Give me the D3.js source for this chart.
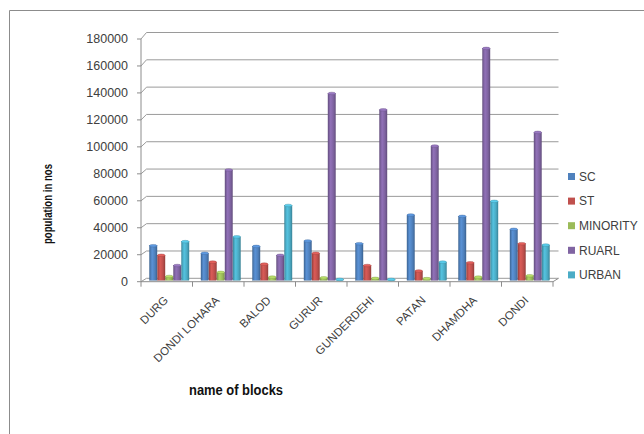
<!DOCTYPE html>
<html>
<head>
<meta charset="utf-8">
<script src="https://cdn.jsdelivr.net/npm/d3@7/dist/d3.min.js"></script>
<style>
  html, body { margin: 0; padding: 0; background: #ffffff; }
  svg { display: block; font-family: "Liberation Sans", Arial, sans-serif; }
</style>
</head>
<body>
<svg id="chart" width="644" height="434"></svg>
<script>
// ---- data ----
const categories = ["DURG", "DONDI LOHARA", "BALOD", "GURUR", "GUNDERDEHI", "PATAN", "DHAMDHA", "DONDI"];
const seriesNames = ["SC", "ST", "MINORITY", "RUARL", "URBAN"];
const sc       = [24800, 19300, 24300, 28300, 26300, 47300, 46300, 36800];
const st       = [17800, 12800, 11300, 19300, 10300, 6300, 12300, 26300];
const minority = [2300, 5300, 1800, 1300, 900, 700, 1800, 2800];
const ruarl    = [10300, 80300, 17800, 136300, 124300, 97800, 169300, 107800];
const urban    = [27800, 31300, 54300, 100, 100, 12800, 57300, 25300];
const yTicks   = [0, 20000, 40000, 60000, 80000, 100000, 120000, 140000, 160000, 180000];
const yTitle = "population in nos";
const xTitle = "name of blocks";

const seriesValues = [sc, st, minority, ruarl, urban];
const colors = ["#4F81BD", "#C0504D", "#9BBB59", "#8064A2", "#4BACC6"];

const svg = d3.select("#chart");

// frame
svg.append("path")
  .attr("d", "M9.5,434 L9.5,10.5 L644,10.5")
  .attr("fill", "none").attr("stroke", "#8c8c8c").attr("stroke-width", 1);

// scales
const x0 = d3.scaleBand().domain(categories).range([141, 553]);
const x1 = d3.scaleBand().domain(seriesNames).range([8.5, 48.5]);
const yBack = d3.scaleLinear().domain([0, 180000]).range([278.3, 32.5]);
const yFront = d3.scaleLinear().domain([0, 180000]).range([281.7, 39]);
const depthX = 5.5;
const xLeft = 141, xRight = x0.range()[1];

// gradients for cylinder look
const defs = svg.append("defs");
colors.forEach((c, i) => {
  const g = defs.append("linearGradient").attr("id", "g" + i)
    .attr("x1", "0%").attr("x2", "100%").attr("y1", "0%").attr("y2", "0%");
  const base = d3.color(c);
  g.append("stop").attr("offset", "0%").attr("stop-color", base.darker(0.5));
  g.append("stop").attr("offset", "35%").attr("stop-color", base.brighter(0.35));
  g.append("stop").attr("offset", "70%").attr("stop-color", base);
  g.append("stop").attr("offset", "100%").attr("stop-color", base.darker(0.6));
});

// gridlines (back wall) with diagonal from axis
const grid = svg.append("g");
yTicks.forEach(t => {
  grid.append("path")
    .attr("d", `M${xLeft},${yFront(t)} L${xLeft + depthX},${yBack(t)} L${xRight + depthX},${yBack(t)}`)
    .attr("fill", "none").attr("stroke", "#9a9a9a").attr("stroke-width", 1);
});

// floor
svg.append("path")
  .attr("d", `M${xLeft},${yFront(0)} L${xRight},${yFront(0)} L${xRight + depthX},${yBack(0)}`)
  .attr("fill", "none").attr("stroke", "#8c8c8c").attr("stroke-width", 1);

// y axis
svg.append("line")
  .attr("x1", xLeft).attr("x2", xLeft)
  .attr("y1", yFront(180000)).attr("y2", yFront(0))
  .attr("stroke", "#8c8c8c");
const yAxisG = svg.append("g");
yTicks.forEach(t => {
  yAxisG.append("line")
    .attr("x1", xLeft - 4).attr("x2", xLeft)
    .attr("y1", yFront(t)).attr("y2", yFront(t))
    .attr("stroke", "#8c8c8c");
  yAxisG.append("text")
    .attr("x", 128).attr("y", yFront(t)).attr("dy", "0.35em")
    .attr("text-anchor", "end")
    .attr("font-size", 12.5).attr("fill", "#404040")
    .text(t);
});

// x ticks
const xBounds = categories.map(c => x0(c)).concat([xRight]);
xBounds.forEach(b => {
  svg.append("line")
    .attr("x1", b).attr("x2", b)
    .attr("y1", yFront(0)).attr("y2", yFront(0) + 5)
    .attr("stroke", "#8c8c8c");
});

// x labels
categories.forEach(c => {
  const cx = x0(c) + x0.bandwidth() / 2 + 2;
  svg.append("text")
    .attr("transform", `translate(${cx},301) rotate(-45)`)
    .attr("text-anchor", "end")
    .attr("font-size", 11.5).attr("fill", "#404040")
    .text(c);
});

// bars
const barW = x1.bandwidth() - 0.5;
const bottom = yFront(0) - 1.5;
const capR = 1.3;
seriesNames.forEach((s, si) => {
  const g = svg.append("g");
  const data = categories.map((c, ci) => ({ c, v: seriesValues[si][ci] }));
  g.selectAll("rect").data(data).join("rect")
    .attr("x", d => x0(d.c) + x1(s))
    .attr("y", d => Math.min(bottom - 0.8, yBack(d.v) + capR))
    .attr("width", barW)
    .attr("height", d => Math.max(0.8, bottom - yBack(d.v) - capR))
    .attr("fill", `url(#g${si})`)
    .attr("stroke", d3.color(colors[si]).darker(0.8))
    .attr("stroke-width", 0.4);
  g.selectAll("ellipse").data(data).join("ellipse")
    .attr("cx", d => x0(d.c) + x1(s) + barW / 2)
    .attr("cy", d => Math.min(bottom - 0.8, yBack(d.v) + capR))
    .attr("rx", barW / 2)
    .attr("ry", capR)
    .attr("fill", d3.color(colors[si]).brighter(0.5))
    .attr("stroke", d3.color(colors[si]).darker(0.6))
    .attr("stroke-width", 0.4);
});

// legend
const legend = svg.append("g");
seriesNames.forEach((s, i) => {
  const cy = 176.5 + i * 24.6;
  legend.append("rect")
    .attr("x", 568).attr("y", cy - 3.5).attr("width", 7).attr("height", 7)
    .attr("fill", colors[i]);
  legend.append("text")
    .attr("x", 579).attr("y", cy).attr("dy", "0.36em")
    .attr("font-size", 12).attr("fill", "#404040")
    .text(s);
});

// axis titles
svg.append("text")
  .attr("transform", "translate(52,204) rotate(-90)")
  .attr("text-anchor", "middle")
  .attr("font-size", 12).attr("font-weight", "bold").attr("fill", "#111")
  .attr("textLength", 80).attr("lengthAdjust", "spacingAndGlyphs")
  .text(yTitle);
svg.append("text")
  .attr("x", 236).attr("y", 395)
  .attr("text-anchor", "middle")
  .attr("font-size", 14).attr("font-weight", "bold").attr("fill", "#111")
  .attr("textLength", 94).attr("lengthAdjust", "spacingAndGlyphs")
  .text(xTitle);
</script>
</body>
</html>
